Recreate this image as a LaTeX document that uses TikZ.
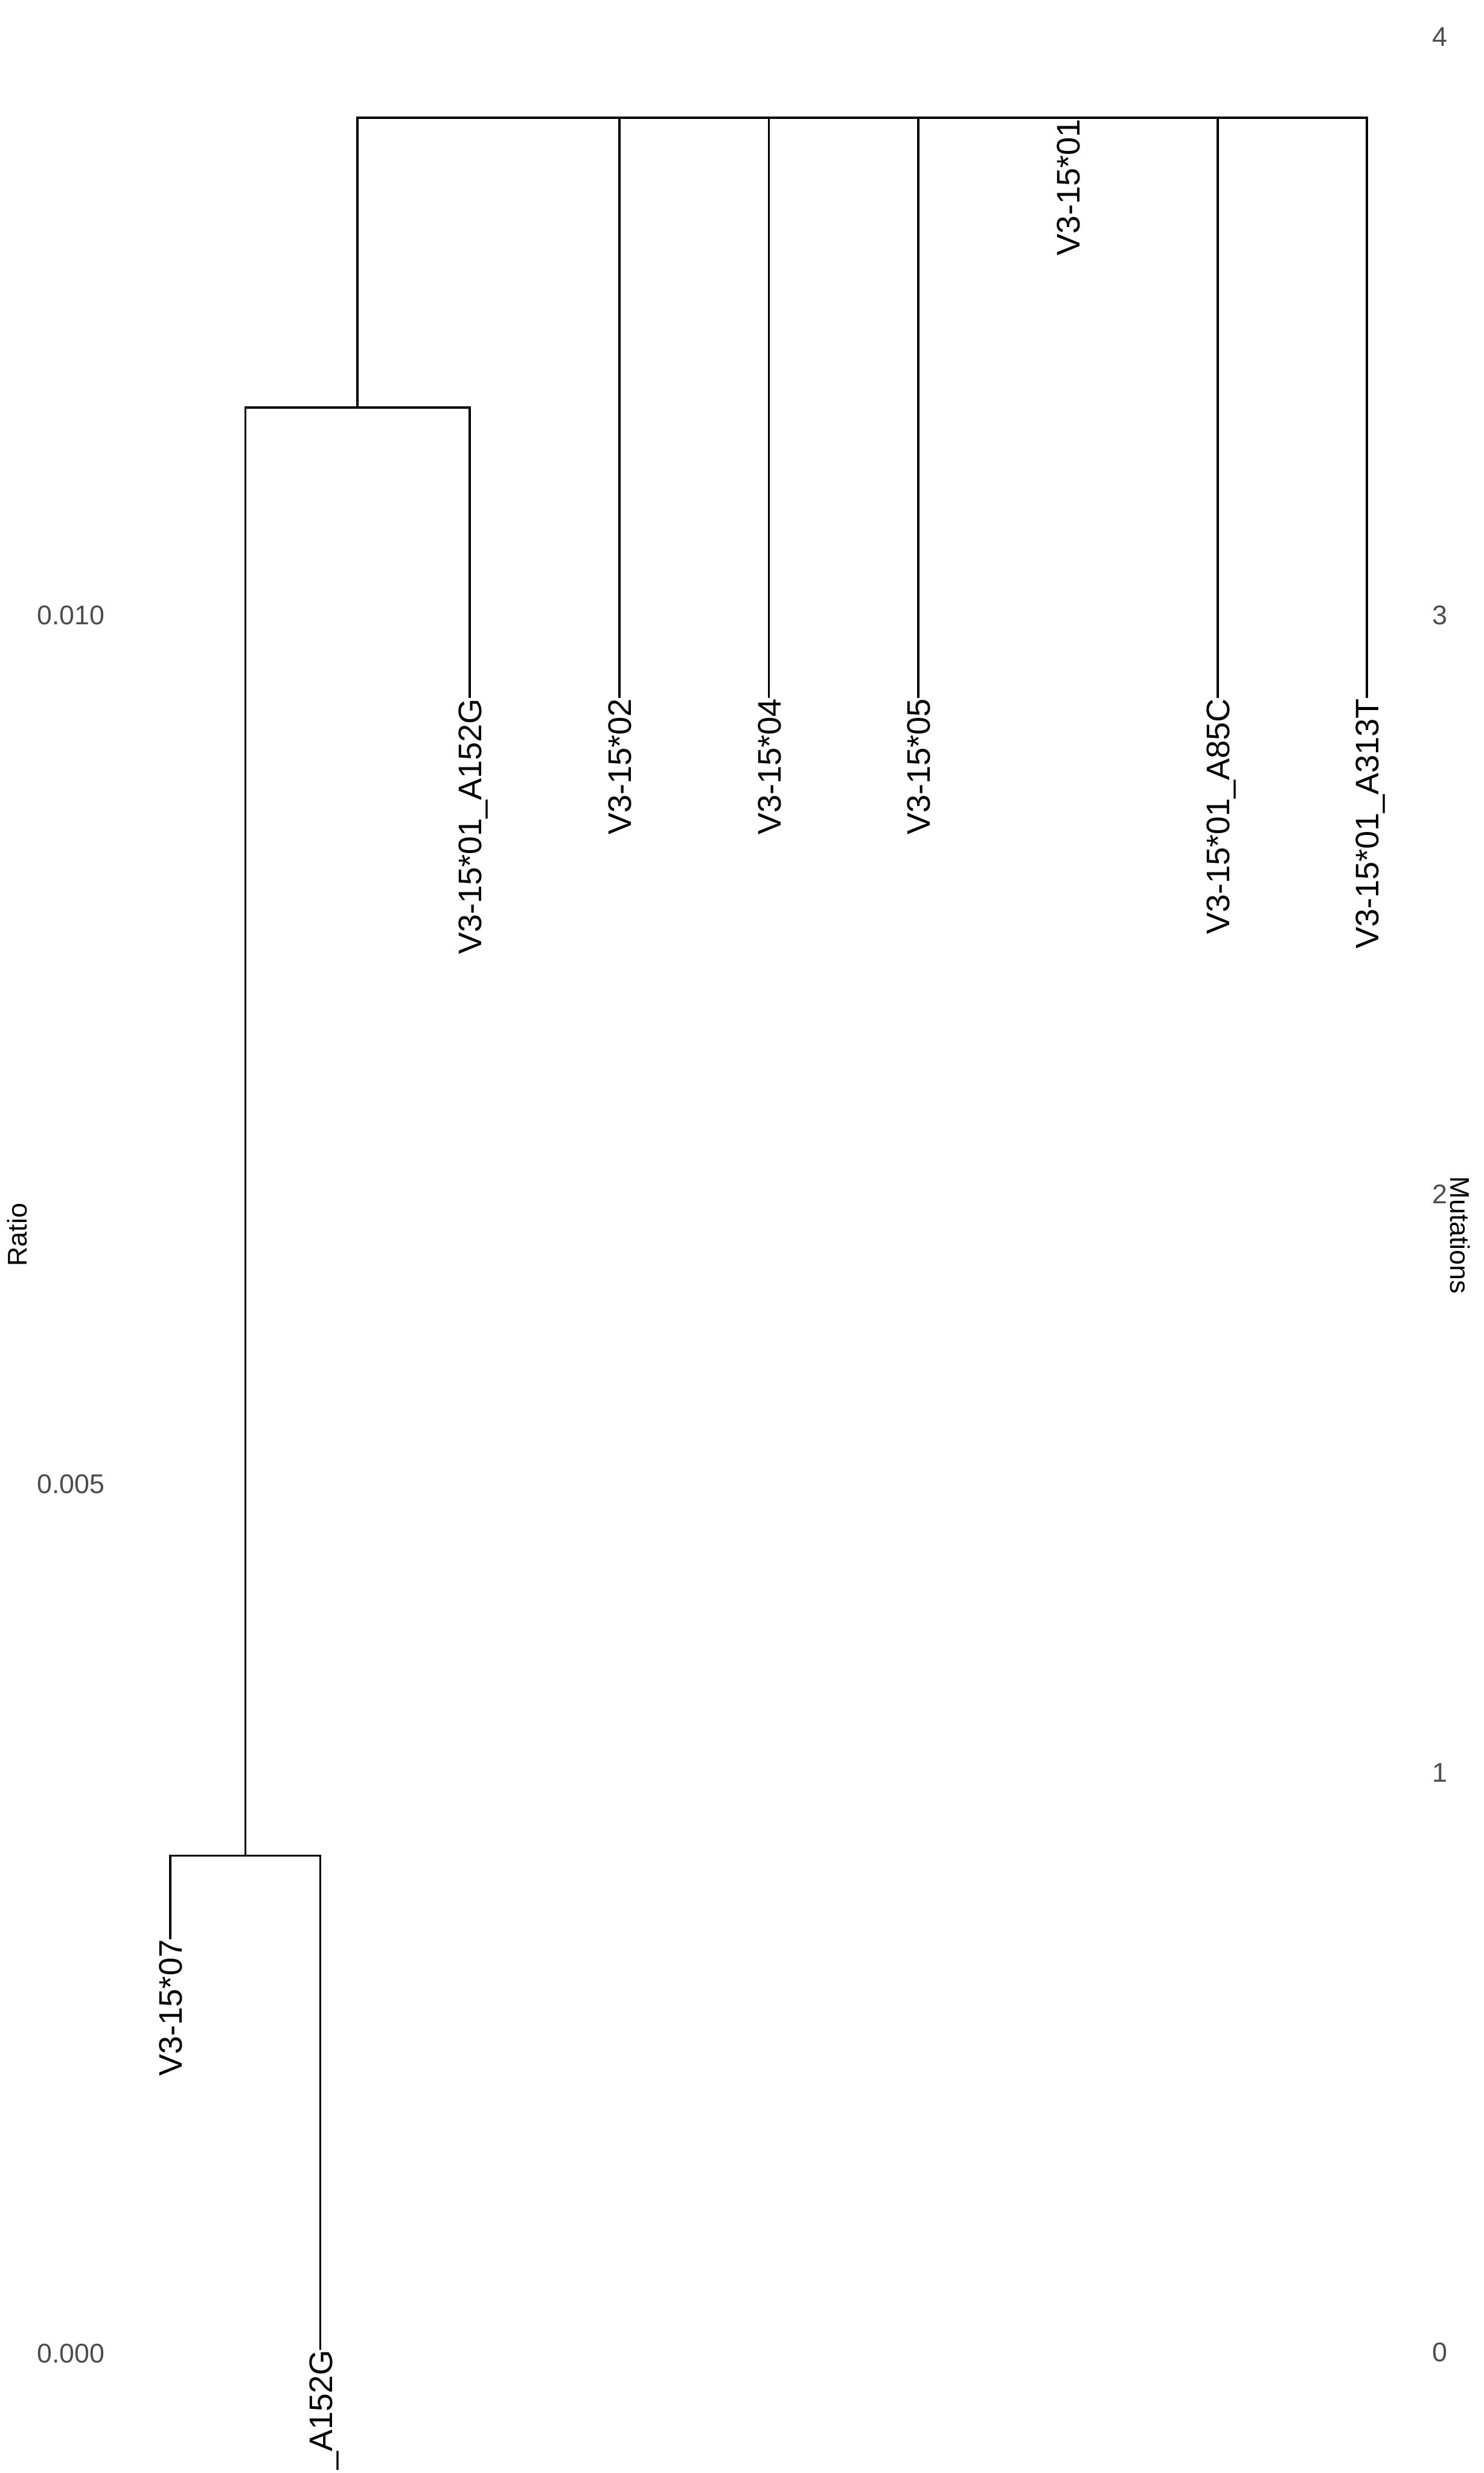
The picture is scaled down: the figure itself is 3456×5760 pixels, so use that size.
\documentclass[tikz,border=0pt]{standalone}
\usepackage{fontspec}
\setmainfont{Liberation Sans}
\definecolor{axisgrey}{HTML}{4D4D4D}
\begin{document}
\begin{tikzpicture}[x=0.2pt,y=-0.2pt,
  branch/.style={draw=black,line width=1.05pt,line join=miter},
  leaflab/.style={rotate=90,anchor=base east,inner sep=0pt,font=\fontsize{15.2}{18}\selectfont},
  ticklab/.style={inner sep=0pt,text=axisgrey,font=\fontsize{12.6}{15}\selectfont},
  axtitle/.style={inner sep=0pt,text=black,font=\fontsize{12.6}{15}\selectfont}]
\useasboundingbox (0,0) rectangle (3456,5760);
\clip (0,0) rectangle (3456,5760);
% leaves (ends of branches)
\coordinate (l1) at (397,4517);
\coordinate (l2) at (746,5473);
\coordinate (l3) at (1094.5,1626);
\coordinate (l4) at (1443,1626);
\coordinate (l5) at (1791,1626);
\coordinate (l6) at (2139,1626);
\coordinate (l7) at (2488,277);
\coordinate (l8) at (2836,1626);
\coordinate (l9) at (3184,1626);
% internal nodes
\coordinate (n2) at (571.5,4322);
\coordinate (n1) at (833,949);
\coordinate (root) at (2008.5,274);
% branches
\draw[branch] (l1) |- (n2) -| (l2);
\draw[branch] (n2) |- (n1) -| (l3);
\draw[branch] (n1) |- (root) -| (l9);
\foreach \l in {l4,l5,l6,l8} \draw[branch] (\l) -- (\l |- root);
% leaf labels
\node[leaflab] (t1) at ([xshift=5.5pt]l1) {V3-15*07};
\node[leaflab] (t2) at ([xshift=5.5pt]l2) {\_A152G};
\node[leaflab] (t3) at ([xshift=5.5pt]l3) {V3-15*01\_A152G};
\node[leaflab] (t4) at ([xshift=5.5pt]l4) {V3-15*02};
\node[leaflab] (t5) at ([xshift=5.5pt]l5) {V3-15*04};
\node[leaflab] (t6) at ([xshift=5.5pt]l6) {V3-15*05};
\node[leaflab] (t7) at ([xshift=5.5pt]l7) {V3-15*01};
\node[leaflab] (t8) at ([xshift=5.5pt]l8) {V3-15*01\_A85C};
\node[leaflab] (t9) at ([xshift=5.5pt]l9) {V3-15*01\_A313T};
% left axis
\node[ticklab,anchor=base east] (r1) at (245,1455) {0.010};
\node[ticklab,anchor=base east] (r2) at (245,3479) {0.005};
\node[ticklab,anchor=base east] (r3) at (245,5503) {0.000};
\node[axtitle,rotate=90,anchor=base] (ratio) at (63,2876) {Ratio};
% right axis
\node[ticklab,anchor=base west] (m4) at (3335,107) {4};
\node[ticklab,anchor=base west] (m3) at (3335,1455) {3};
\node[ticklab,anchor=base west] (m2) at (3335,2803) {2};
\node[ticklab,anchor=base west] (m1) at (3335,4151) {1};
\node[ticklab,anchor=base west] (m0) at (3335,5501) {0};
\node[axtitle,rotate=-90,anchor=base] (mut) at (3378,2877) {Mutations};
\end{tikzpicture}
\end{document}
